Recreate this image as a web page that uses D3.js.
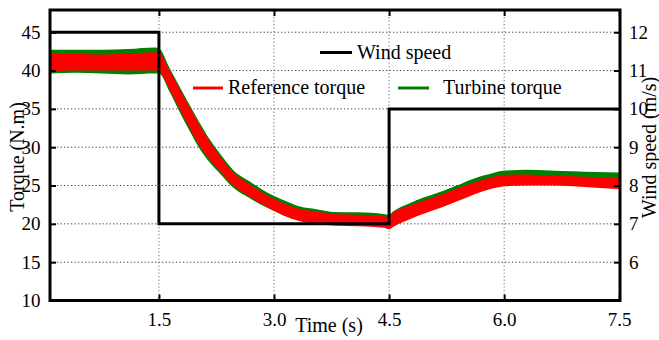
<!DOCTYPE html>
<html>
<head>
<meta charset="utf-8">
<script src="https://cdn.jsdelivr.net/npm/d3@7"></script>
<style>
  html, body { margin: 0; padding: 0; background: #fff; }
  svg { display: block; }
  svg text { font-family: "Liberation Serif", "Times New Roman", serif; fill: #000; }
</style>
</head>
<body>
<svg id="chart" width="659" height="340"></svg>
<script>
// ---- data ----
const timeS = [0.08, 0.40, 0.75, 1.10, 1.45, 1.50, 1.64, 1.77, 1.90, 2.03, 2.17, 2.30, 2.47, 2.69, 2.91, 3.12, 3.34, 3.55, 3.77, 4.10, 4.43, 4.50, 4.55, 4.77, 4.94, 5.20, 5.38, 5.60, 5.81, 6.01, 6.30, 6.60, 6.90, 7.20, 7.51];
const refLo  = [39.9, 40.0, 40.0, 40.0, 40.0, 39.9, 37.5, 35.0, 32.5, 30.2, 28.3, 26.8, 25.0, 23.5, 22.2, 21.1, 20.35, 20.0, 19.8, 19.7, 19.5, 19.3, 19.6, 20.6, 21.3, 22.2, 22.9, 23.8, 24.5, 24.9, 25.0, 25.0, 24.9, 24.7, 24.5];
const refHi  = [42.2, 42.2, 42.1, 42.2, 42.4, 42.4, 40.0, 37.6, 35.2, 32.9, 30.6, 28.8, 26.7, 25.1, 23.7, 22.7, 21.95, 21.6, 21.3, 21.2, 21.0, 20.9, 21.4, 22.4, 23.0, 23.9, 24.6, 25.4, 26.0, 26.4, 26.45, 26.3, 26.2, 26.1, 26.05];
const turbLo = [39.6, 39.7, 39.6, 39.5, 39.6, 39.6, 37.2, 34.6, 32.1, 29.8, 27.9, 26.5, 24.7, 23.3, 22.1, 21.2, 20.55, 20.2, 20.0, 19.9, 19.7, 19.6, 19.8, 20.8, 21.5, 22.4, 23.1, 24.0, 24.7, 25.1, 25.2, 25.2, 25.1, 24.9, 24.7];
const turbHi = [42.7, 42.7, 42.7, 42.8, 43.0, 42.9, 40.3, 37.9, 35.5, 33.2, 30.9, 29.1, 27.0, 25.5, 24.1, 23.1, 22.25, 21.9, 21.55, 21.5, 21.3, 21.2, 21.6, 22.7, 23.4, 24.3, 25.0, 25.9, 26.5, 26.95, 27.05, 26.95, 26.85, 26.75, 26.7];
const windT  = [0.08, 1.5, 4.5, 7.51];
const windV  = [12, 7, 10, 10];
const xTicks = [1.5, 3.0, 4.5, 6.0, 7.5];
const torqueTicks = [10, 15, 20, 25, 30, 35, 40, 45];
const windTicks = [6, 7, 8, 9, 10, 11, 12];
const legendLabels = ["Wind speed", "Reference torque", "Turbine torque"];

// ---- layout ----
const L = 50, R = 620, T = 10, B = 300.5;
const FONT = "'Liberation Serif', 'Times New Roman', serif";
const svg = d3.select("#chart");
const x = d3.scaleLinear().domain([0.08, 7.51]).range([L, R]);
const yL = d3.scaleLinear().domain([10, 47.9]).range([B, T]);
const yR = d3.scaleLinear().domain([5, 12.58]).range([B, T]);

svg.append("defs").append("clipPath").attr("id", "clip")
  .append("rect").attr("x", L).attr("y", T).attr("width", R - L).attr("height", B - T);

// grid
const grid = svg.append("g");
grid.selectAll("line.h").data(torqueTicks.filter(d => d > 10)).enter().append("line")
  .attr("x1", L).attr("x2", R).attr("y1", d => yL(d)).attr("y2", d => yL(d))
  .attr("stroke", "#444").attr("stroke-width", 1).attr("stroke-dasharray", "1.3,2.2");
grid.selectAll("line.v").data(xTicks.filter(d => d < 7.5)).enter().append("line")
  .attr("y1", T).attr("y2", B).attr("x1", d => x(d)).attr("x2", d => x(d))
  .attr("stroke", "#777").attr("stroke-width", 1).attr("stroke-dasharray", "1.3,2.2");

// bands
const idx = d3.range(timeS.length);
const plot = svg.append("g").attr("clip-path", "url(#clip)");
const band = (lo, hi) => d3.area().curve(d3.curveMonotoneX)
  .x(i => x(timeS[i])).y0(i => yL(lo[i])).y1(i => yL(hi[i]));
plot.append("path").attr("d", band(turbLo, turbHi)(idx)).attr("fill", "#008000");
plot.append("path").attr("d", band(refLo, refHi)(idx)).attr("fill", "#ff0000");

// wind speed
const windLine = d3.line().x(i => x(windT[i])).y(i => yR(windV[i])).curve(d3.curveStepAfter);
plot.append("path").attr("d", windLine(d3.range(windT.length)))
  .attr("fill", "none").attr("stroke", "#000").attr("stroke-width", 3);

// frame
svg.append("rect").attr("x", L).attr("y", T).attr("width", R - L).attr("height", B - T)
  .attr("fill", "none").attr("stroke", "#000").attr("stroke-width", 3);

// ticks via axes
const tk = 6;
const axB = svg.append("g").attr("transform", `translate(0,${B})`)
  .call(d3.axisBottom(x).tickValues(xTicks).tickSize(-tk).tickPadding(tk + 6).tickFormat(d3.format(".1f")));
const axT = svg.append("g").attr("transform", `translate(0,${T})`)
  .call(d3.axisTop(x).tickValues(xTicks).tickSize(-tk).tickFormat(""));
const axL = svg.append("g").attr("transform", `translate(${L},0)`)
  .call(d3.axisLeft(yL).tickValues(torqueTicks).tickSize(-tk).tickPadding(tk + 3.5));
const axR = svg.append("g").attr("transform", `translate(${R},0)`)
  .call(d3.axisRight(yR).tickValues(windTicks).tickSize(-tk).tickPadding(tk + 3));
[axB, axT, axL, axR].forEach(a => {
  a.attr("font-family", null).attr("font-size", null);
  a.select(".domain").remove();
  a.selectAll(".tick line").attr("stroke", "#000").attr("stroke-width", 2);
  a.selectAll("text").attr("fill", "#000").style("font-size", "19px");
});
axB.selectAll("text").attr("dy", "0.71em");

// axis titles
svg.append("text").attr("x", 329).attr("y", 332).attr("text-anchor", "middle")
  .style("font-size", "20px").text("Time (s)");
svg.append("text").attr("transform", "translate(24,157) rotate(-90)").attr("text-anchor", "middle")
  .style("font-size", "20px").text("Torque (N.m)");
svg.append("text").attr("transform", "translate(656,147.5) rotate(-90)").attr("text-anchor", "middle")
  .style("font-size", "20px").text("Wind speed (m/s)");

// legend
const leg = [
  { x1: 320, x2: 352, y: 52.5, tx: 357, ty: 58.5, c: "#000" },
  { x1: 193, x2: 223, y: 88, tx: 228, ty: 94, c: "#ff0000" },
  { x1: 398, x2: 429, y: 88, tx: 443, ty: 94, c: "#008000" }
];
leg.forEach((d, i) => {
  svg.append("line").attr("x1", d.x1).attr("x2", d.x2).attr("y1", d.y).attr("y2", d.y)
    .attr("stroke", d.c).attr("stroke-width", 3);
  svg.append("text").attr("x", d.tx).attr("y", d.ty).style("font-size", "20px").text(legendLabels[i]);
});

svg.selectAll("text").style("font-family", FONT);
</script>
</body>
</html>
